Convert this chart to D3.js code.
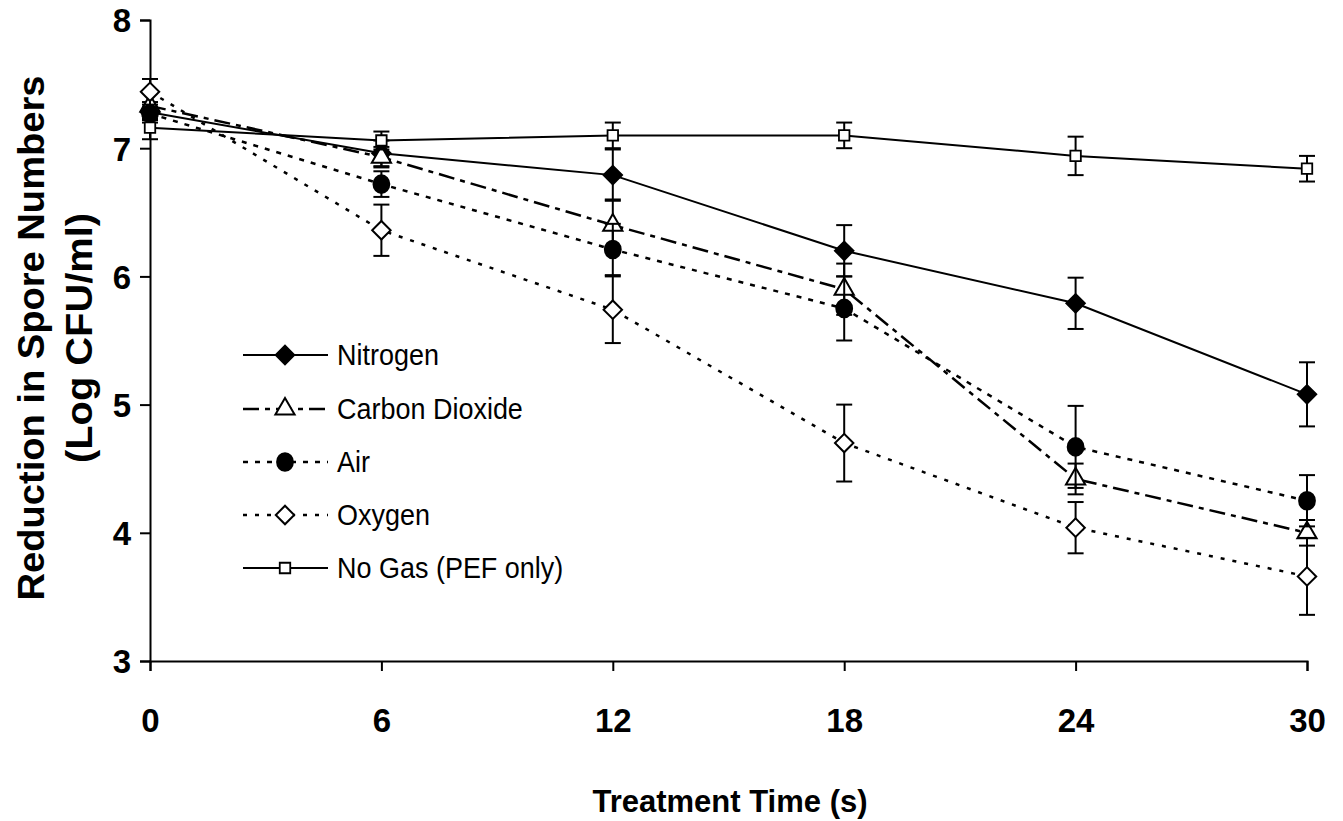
<!DOCTYPE html>
<html>
<head>
<meta charset="utf-8">
<script src="https://cdn.jsdelivr.net/npm/d3@7"></script>
<style>
  html, body { margin: 0; padding: 0; background: #fff; }
  svg { display: block; font-family: "Liberation Sans", Arial, sans-serif; }
</style>
</head>
<body>
<script>
const times = [0, 6, 12, 18, 24, 30];
const seriesNames = ['Nitrogen', 'Carbon Dioxide', 'Air', 'Oxygen', 'No Gas (PEF only)'];

const nitrogen = [7.28, 6.96, 6.79, 6.2, 5.79, 5.08];
const nitrogenErr = [0.08, 0.1, 0.2, 0.2, 0.2, 0.25];
const co2 = [7.33, 6.93, 6.4, 5.9, 4.42, 4.0];
const co2Err = [0.1, 0.08, 0.2, 0.2, 0.12, 0.1];
const air = [7.27, 6.72, 6.21, 5.75, 4.67, 4.25];
const airErr = [0.05, 0.1, 0.2, 0.25, 0.32, 0.2];
const oxygen = [7.44, 6.36, 5.74, 4.7, 4.04, 3.66];
const oxygenErr = [0.1, 0.2, 0.26, 0.3, 0.2, 0.3];
const noGas = [7.16, 7.06, 7.1, 7.1, 6.94, 6.84];
const noGasErr = [0.09, 0.07, 0.1, 0.1, 0.15, 0.1];

const xTicks = [0, 6, 12, 18, 24, 30];
const yTicks = [3, 4, 5, 6, 7, 8];

// look of each series
const styles = [
  { dash: null, symbol: 'diamond', fill: '#000', width: 2 },
  { dash: '16,6,5,6', symbol: 'triangle', fill: '#fff', width: 2.5 },
  { dash: '5,7', symbol: 'circle', fill: '#000', width: 2.5 },
  { dash: '4,8', symbol: 'diamond', fill: '#fff', width: 2.5 },
  { dash: null, symbol: 'square', fill: '#fff', width: 2 }
];

const values = [nitrogen, co2, air, oxygen, noGas];
const errors = [nitrogenErr, co2Err, airErr, oxygenErr, noGasErr];

const series = seriesNames.map((name, i) => ({
  name,
  style: styles[i],
  points: times.map((t, j) => ({ t, v: values[i][j], e: errors[i][j] }))
}));

const W = 1343, H = 821;
const x = d3.scaleLinear().domain([0, 30]).range([150, 1307]);
const y = d3.scaleLinear().domain([3, 8]).range([661, 20]);

const svg = d3.select('body').append('svg')
  .attr('width', W)
  .attr('height', H);

// axes
const yAxis = svg.append('g')
  .attr('transform', `translate(${x(0)},0)`)
  .call(d3.axisLeft(y).tickValues(yTicks).tickSize(10).tickPadding(9).tickFormat(d3.format('d')));
const xAxis = svg.append('g')
  .attr('transform', `translate(0,${y(3)})`)
  .call(d3.axisBottom(x).tickValues(xTicks).tickSize(10).tickPadding(38).tickFormat(d3.format('d')));

[xAxis, yAxis].forEach(g => {
  g.select('.domain').attr('stroke', '#000').attr('stroke-width', 2);
  g.selectAll('.tick line').attr('stroke', '#000').attr('stroke-width', 2);
  g.selectAll('.tick text')
    .attr('fill', '#000')
    .style('font-size', '33px')
    .style('font-weight', 'bold');
});
yAxis.selectAll('.tick text').attr('dy', '0.36em');

// axis titles
svg.append('text')
  .attr('x', 730)
  .attr('y', 812)
  .attr('text-anchor', 'middle')
  .style('font-size', '31px')
  .style('font-weight', 'bold')
  .text('Treatment Time (s)');

const yTitle = svg.append('text')
  .attr('transform', 'translate(0,338) rotate(-90)')
  .attr('text-anchor', 'middle')
  .style('font-size', '37px')
  .style('font-weight', 'bold');
yTitle.append('tspan').attr('x', 0).attr('y', 44)
  .attr('textLength', 525).attr('lengthAdjust', 'spacingAndGlyphs')
  .text('Reduction in Spore Numbers');
yTitle.append('tspan').attr('x', 0).attr('y', 92)
  .attr('textLength', 250).attr('lengthAdjust', 'spacingAndGlyphs')
  .text('(Log CFU/ml)');

function symbolPath(kind) {
  if (kind === 'diamond') return d3.symbol().type(d3.symbolSquare).size(170)();
  if (kind === 'triangle') return d3.symbol().type(d3.symbolTriangle).size(160)();
  if (kind === 'circle') return d3.symbol().type(d3.symbolCircle).size(220)();
  return d3.symbol().type(d3.symbolSquare).size(110)();
}

function drawMarker(g, s, cx, cy) {
  const m = g.append('path')
    .attr('d', symbolPath(s.symbol))
    .attr('fill', s.fill)
    .attr('stroke', '#000')
    .attr('stroke-width', 2)
    .attr('transform', `translate(${cx},${cy})` + (s.symbol === 'diamond' ? ' rotate(45)' : ''));
  if (s.symbol === 'circle') m.attr('transform', `translate(${cx},${cy}) scale(0.95,1.05)`);
  if (s.symbol === 'square') m.attr('stroke-width', 1.8);
}

const line = d3.line().x(d => x(d.t)).y(d => y(d.v));

const plot = svg.append('g');

series.forEach(s => {
  const g = plot.append('g');
  g.append('path')
    .datum(s.points)
    .attr('d', line)
    .attr('fill', 'none')
    .attr('stroke', '#000')
    .attr('stroke-width', s.style.width)
    .attr('stroke-dasharray', s.style.dash);

  // error bars
  s.points.forEach(p => {
    const cx = x(p.t);
    g.append('line')
      .attr('x1', cx).attr('x2', cx)
      .attr('y1', y(p.v + p.e)).attr('y2', y(p.v - p.e))
      .attr('stroke', '#000').attr('stroke-width', 2);
    [p.v + p.e, p.v - p.e].forEach(v => {
      g.append('line')
        .attr('x1', cx - 8).attr('x2', cx + 8)
        .attr('y1', y(v)).attr('y2', y(v))
        .attr('stroke', '#000').attr('stroke-width', 2);
    });
  });

  s.points.forEach(p => drawMarker(g, s.style, x(p.t), y(p.v)));
});

// legend
const legend = svg.append('g');
const legendY = [355, 409, 462, 515, 568];
series.forEach((s, i) => {
  const ly = legendY[i];
  legend.append('line')
    .attr('x1', 243).attr('x2', 328)
    .attr('y1', ly).attr('y2', ly)
    .attr('stroke', '#000')
    .attr('stroke-width', s.style.width)
    .attr('stroke-dasharray', s.style.dash);
  drawMarker(legend, s.style, 285, ly);
  legend.append('text')
    .attr('transform', `translate(337,${ly}) scale(0.93,1)`)
    .attr('dy', '0.36em')
    .style('font-size', '29px')
    .text(s.name);
});
</script>
</body>
</html>
